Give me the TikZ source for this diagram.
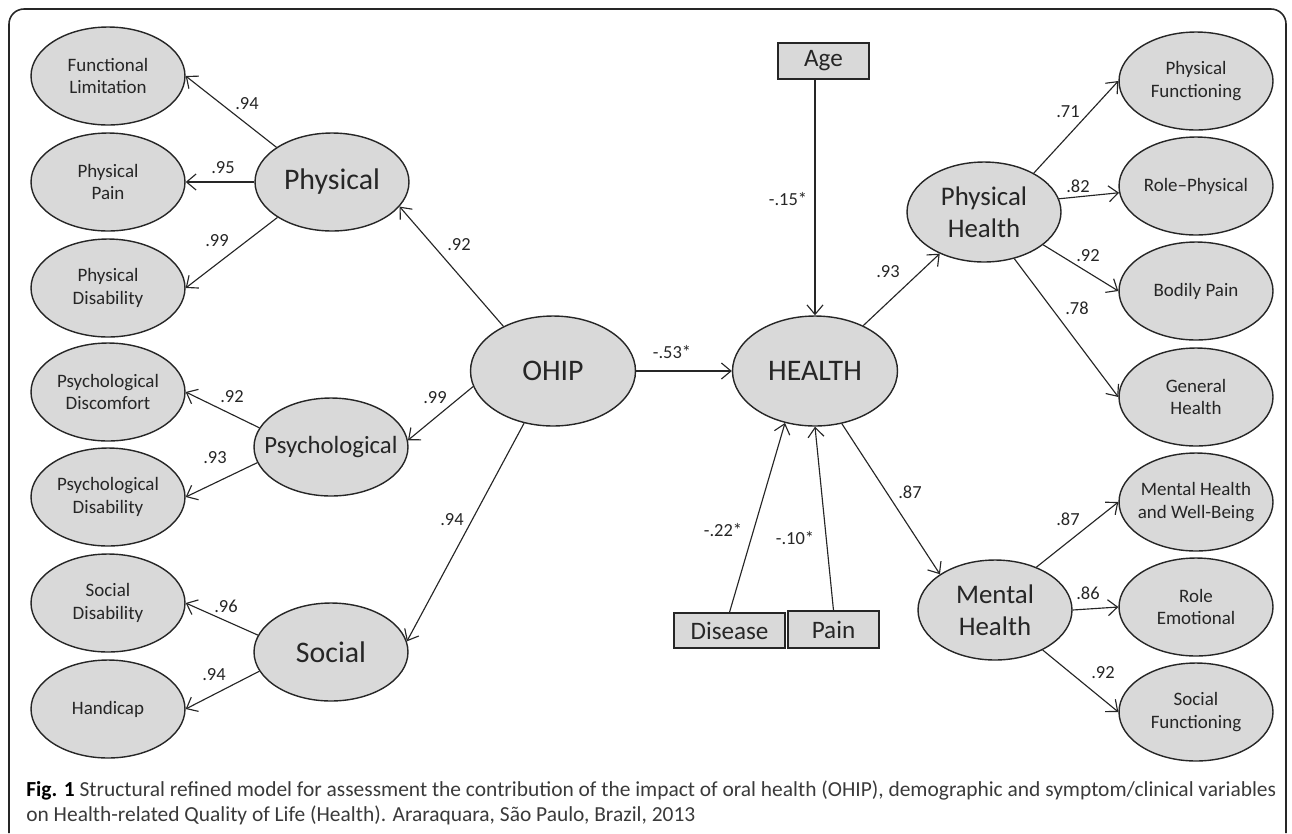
\documentclass[tikz,border=0pt]{standalone}
\usepackage{fontspec}
\setmainfont{Carlito}
\usepackage{tikz}
\usetikzlibrary{shapes.geometric,arrows.meta,calc}
\definecolor{ellfill}{HTML}{D9D9D9}
\definecolor{ink}{HTML}{262626}
\definecolor{captxt}{HTML}{3A3A3A}
\def\fs#1#2{\fontsize{#1}{#2}\selectfont}

\begin{document}
\begin{tikzpicture}[x=0.02cm, y=-0.02cm,
		every label/.style={inner sep=0pt, align=center, text=ink},
		obs/.style={ellipse, draw=ink, fill=ellfill, line width=0.8pt, inner sep=0pt, minimum width=3.08cm, minimum height=1.96cm},
		lat/.style={obs, minimum width=3.3cm, minimum height=2.2cm},
		dim/.style={obs, minimum width=3.08cm, minimum height=2.0cm},
		cov/.style={rectangle, draw=ink, fill=ellfill, line width=0.8pt, inner sep=0pt, text=ink, font=\fs{14.3}{17}},
		stxt/.style={font=\fs{10.8}{13}},
		btxt/.style={font=\fs{17}{20}},
		mtxt/.style={font=\fs{15.3}{18}},
		coef/.style={inner sep=0pt, text=ink, font=\fs{10.5}{12}},
		arr/.style={draw=ink, line width=0.65pt, -{Straight Barb[length=1.9mm,width=3.2mm]}}]
			%%%%% START %%%%%
			
			\useasboundingbox (0,0) rectangle (1292,833);
			\draw[ink, line width=0.9pt, rounded corners=0.3cm] (9,833) -- (9,9) -- (1286,9) -- (1286,833);
			
			% OHIP domains
			\node[obs, label={[stxt]center:Functional\\Limitation}] (FL) at (108,76) {};
			\node[obs, label={[stxt]center:Physical\\Pain}] (PP) at (108,182) {};
			\node[obs, label={[stxt]center:Physical\\Disability}] (PD) at (108,288) {};
			\node[obs, label={[stxt]center:Psychological\\Discomfort}] (PDc) at (108,392) {};
			\node[obs, label={[stxt]center:Psychological\\Disability}] (PDs) at (108,497) {};
			\node[obs, label={[stxt]center:Social\\Disability}] (SD) at (108,603) {};
			\node[obs, label={[stxt]center:Handicap}] (HC) at (108,709) {};
			
			\node[obs, label={[btxt]center:Physical}] (Phys) at (332,182) {};
			\node[obs, label={[font=\fs{14.1}{17}]center:Psychological}] (Psy) at (331,447) {};
			\node[obs, label={[btxt]center:Social}] (Soc) at (331,652) {};
			
			\node[lat, label={[btxt]center:OHIP}] (OHIP) at (553,371) {};
			\node[lat, label={[btxt]center:HEALTH}] (HEALTH) at (815,371) {};
			
			\node[cov, minimum width=1.82cm, minimum height=0.72cm] (Age) at (823.5,61) {Age};
			\node[cov, minimum width=2.22cm, minimum height=0.70cm] (Disease) at (729.5,630.5) {Disease};
			\node[cov, minimum width=1.82cm, minimum height=0.74cm] (Pain) at (833.5,629.5) {Pain};
			
			% SF-36 side
			\node[dim, label={[mtxt]center:Physical\\Health}] (PH) at (984,212) {};
			\node[dim, label={[mtxt]center:Mental\\Health}] (MH) at (995,610) {};
			
			\node[obs, label={[stxt]center:Physical\\Functioning}] (PF) at (1196,81) {};
			\node[obs, label={[stxt]center:Role--Physical}] (RP) at (1196,186) {};
			\node[obs, label={[stxt]center:Bodily Pain}] (BP) at (1196,291) {};
			\node[obs, label={[stxt]center:General\\Health}] (GH) at (1196,397) {};
			\node[obs, label={[stxt]center:Mental Health\\and Well-Being}] (MW) at (1196,502) {};
			\node[obs, label={[stxt]center:Role\\Emotional}] (RE) at (1196,607) {};
			\node[obs, label={[stxt]center:Social\\Functioning}] (SF) at (1196,712) {};
			
			% paths
			\draw[arr] (Phys.148) -- (FL.east);
			\draw[arr] (Phys.west) -- (PP.east);
			\draw[arr] (Phys.213) -- (PD.east);
			\draw[arr] (Psy.165) -- (PDc.east);
			\draw[arr] (Psy.192) -- (PDs.east);
			\draw[arr] (Soc.167) -- (SD.east);
			\draw[arr] (Soc.195) -- (HC.east);
			
			\draw[arr] (OHIP.138) -- (Phys.-20);
			\draw[arr] (OHIP.191) -- (Psy.5);
			\draw[arr] (OHIP.241) -- (Soc.8);
			\draw[arr] (OHIP) -- (HEALTH);
			
			\draw[arr] (Age.south -| HEALTH) -- (HEALTH);
			\draw[arr] (Disease.north) -- (HEALTH.240);
			\draw[arr] (Pain.north) -- (HEALTH.south);
			
			\draw[arr] (HEALTH) -- (PH);
			\draw[arr] (HEALTH.-63) -- (MH.147);
			
			\draw[arr] (PH.38) -- (PF.west);
			\draw[arr] (PH.10) -- (RP.185);
			\draw[arr] (PH.-29) -- (BP.west);
			\draw[arr] (PH.-57) -- (GH.west);
			\draw[arr] (MH.46) -- (MW.west);
			\draw[arr] (MH.east) -- (RE.west);
			\draw[arr] (MH.-40) -- (SF.west);
			
			% loadings
			\node[coef] (l1) at (247,104) {.94};
			\node[coef] (l2) at (223,168) {.95};
			\node[coef] (l3) at (217,241) {.99};
			\node[coef] (l4) at (232,397) {.92};
			\node[coef] (l5) at (215,458) {.93};
			\node[coef] (l6) at (226,606) {.96};
			\node[coef] (l7) at (214,675) {.94};
			\node[coef] (l8) at (459,245) {.92};
			\node[coef] (l9) at (435,398) {.99};
			\node[coef] (l10) at (452,520) {.94};
			\node[coef] (l11) at (672,352) {-.53*};
			\node[coef] (l12) at (788,199) {-.15*};
			\node[coef] (l13) at (723,530) {-.22*};
			\node[coef] (l14) at (795,538) {-.10*};
			\node[coef] (l15) at (888,272) {.93};
			\node[coef] (l16) at (910,492) {.87};
			\node[coef] (l17) at (1068,112) {.71};
			\node[coef] (l18) at (1078,186) {.82};
			\node[coef] (l19) at (1088,256) {.92};
			\node[coef] (l20) at (1077,308) {.78};
			\node[coef] (l21) at (1068,519) {.87};
			\node[coef] (l22) at (1088,593) {.86};
			\node[coef] (l23) at (1103,673) {.92};
			
			\node[anchor=north west, inner sep=0pt, align=left, text=captxt, font=\fs{12.2}{14.6}] (cap) at (26,780)
			{{\color{black}\bfseries Fig. 1} Structural refined model for assessment the contribution of the impact of oral health (OHIP), demographic and symptom/clinical variables\\on Health-related Quality of Life (Health). Araraquara, S\~ao Paulo, Brazil, 2013};
			
			%%%%% END %%%%%
		\end{tikzpicture}
\end{document}
